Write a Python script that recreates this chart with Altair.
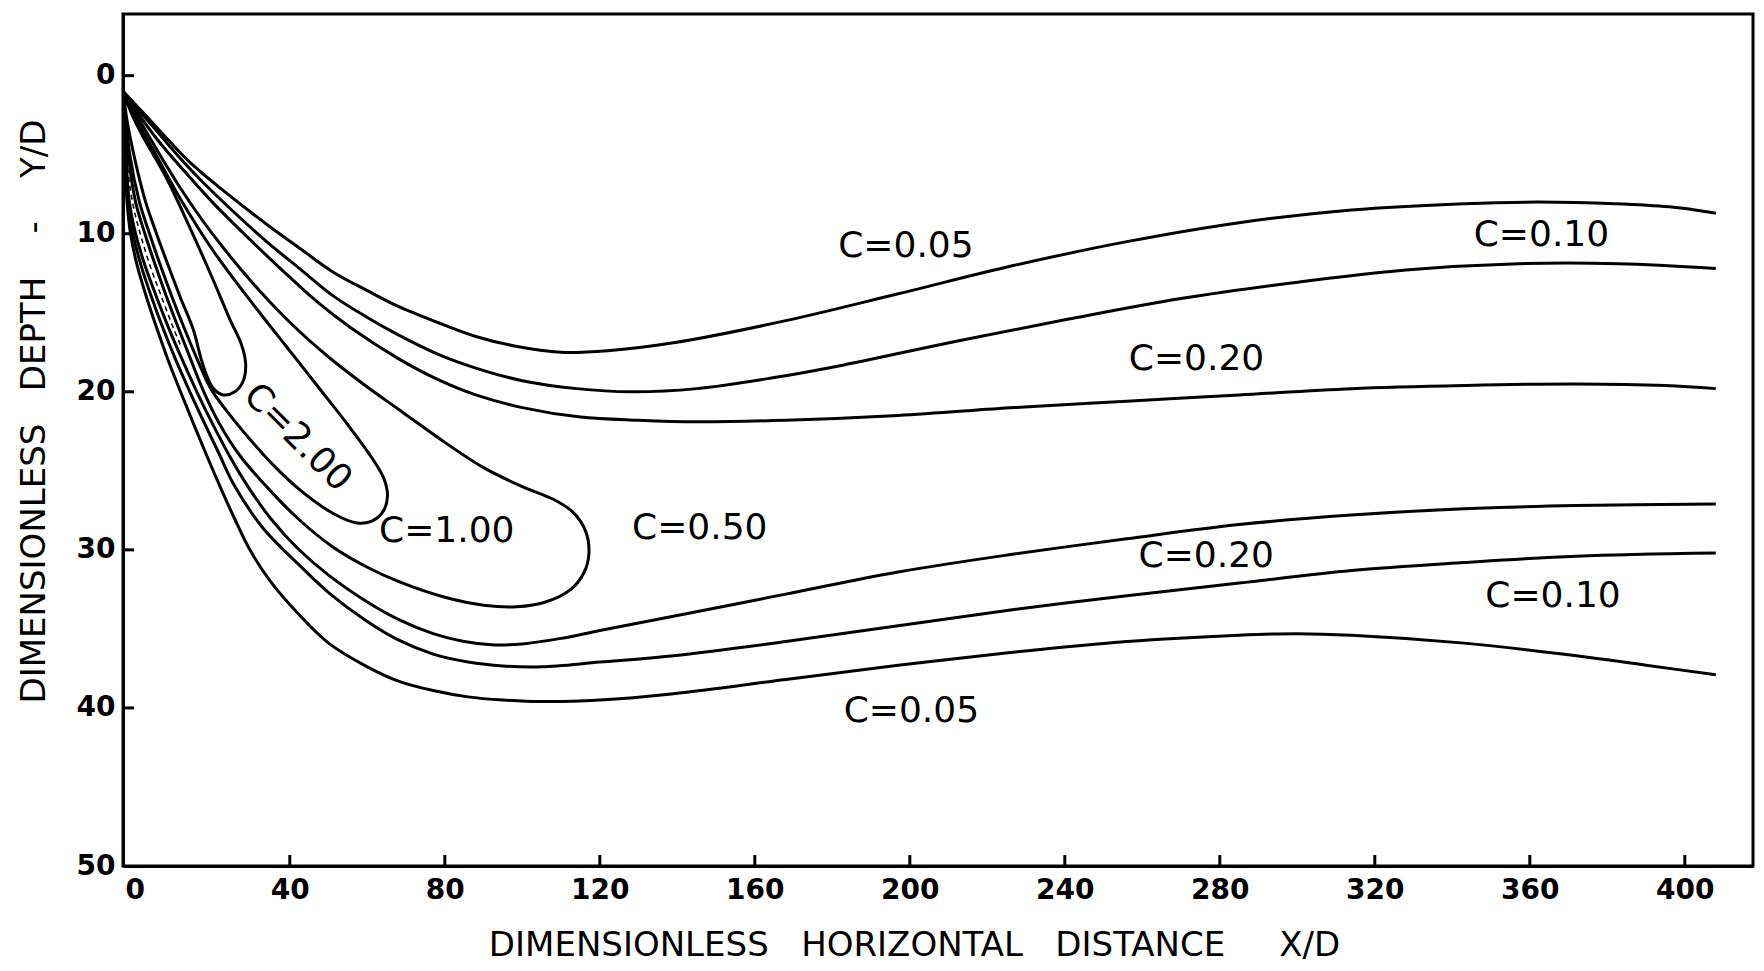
import altair as alt
import pandas as pd

# ---------------- axis values ----------------
X_TICK_VALUES = [0, 40, 80, 120, 160, 200, 240, 280, 320, 360, 400]
Y_TICK_VALUES = [0, 10, 20, 30, 40, 50]
X_INNER_TICKS = [40, 80, 120, 160, 200, 240, 280, 320, 360, 400]
Y_INNER_TICKS = [0, 10, 20, 30, 40]

# ---------------- contour lines (x/D, y/D) ----------------
C005_UPPER = [(-3, 1.0), (2, 2.3), (8, 3.9), (14.3, 5.5), (24, 7.5), (34, 9.4), (43, 11.0),
              (51, 12.4), (60, 13.6), (68, 14.6), (78, 15.6), (88, 16.5), (98, 17.1),
              (110, 17.5), (122, 17.4), (139, 16.9), (168, 15.5), (197, 13.8), (227, 12.0),
              (256, 10.5), (285, 9.3), (314, 8.5), (343, 8.1), (362, 8.0), (382, 8.1),
              (396, 8.3), (408, 8.7)]
C010_UPPER = [(-3, 1.0), (0, 1.9), (6, 3.6), (12, 5.3), (17, 6.6), (25, 8.5), (34, 10.5),
              (43, 12.3), (51, 13.9), (60, 15.3), (68, 16.4), (78, 17.6), (88, 18.5),
              (100, 19.3), (114, 19.8), (128, 20.0), (145, 19.8), (165, 19.1), (183, 18.3),
              (212, 16.8), (241, 15.4), (270, 14.1), (299, 13.1), (328, 12.3), (357, 11.9),
              (383, 11.9), (408, 12.2)]
C020_UPPER = [(-3, 1.0), (0, 2.1), (6, 4.1), (13, 6.1), (20, 8.0), (29, 10.2), (38, 12.3),
              (47, 14.3), (56, 16.0), (68, 17.9), (78, 19.2), (88, 20.2), (100, 21.0),
              (115, 21.6), (130, 21.8), (145, 21.9), (168, 21.8), (197, 21.5), (227, 21.0),
              (256, 20.6), (285, 20.2), (314, 19.8), (343, 19.6), (372, 19.5), (395, 19.6),
              (408, 19.8)]
C050_LOOP = [(-3, 1.0), (0, 2.3), (5, 4.4), (12, 7.2), (20, 10.0), (30, 13.0), (40, 15.6),
             (50, 17.8), (60, 19.7), (68, 21.1), (80, 23.2), (90, 24.8), (100, 26.0),
             (108, 26.8), (113, 27.6), (116.3, 28.8), (117.2, 30.2), (116, 31.4),
             (112.5, 32.5), (106, 33.3), (98.5, 33.6), (90, 33.5), (80, 33.0), (68, 32.0),
             (60, 31.1), (51, 29.8), (42, 28.0), (34, 26.0), (27, 24.0), (21.8, 22.0),
             (17.8, 20.0), (14.5, 18.0), (11.3, 16.0), (8.2, 14.0), (5.3, 12.0), (2.6, 10.0),
             (0.2, 8.0), (-1.7, 5.0), (-3, 1.0)]
C100_LOOP = [(-3, 1.0), (0, 2.6), (5, 4.8), (12, 7.9), (20, 11.0), (30, 14.3), (39, 17.1),
             (48, 19.9), (55, 22.1), (61.5, 24.3), (64.3, 25.5), (65.2, 26.6), (64, 27.6),
             (61, 28.2), (57.3, 28.3), (51.2, 27.7), (42.6, 26.2), (36, 24.7), (29.7, 23.0),
             (24, 21.3), (19.6, 19.8), (16.2, 18.0), (12.8, 16.0), (9.6, 14.0), (6.6, 12.0),
             (3.8, 10.0), (1.2, 8.0), (-1.3, 5.0), (-3, 1.0)]
C200_LOOP = [(-3, 1.0), (-0.5, 2.6), (2.2, 3.9), (8, 6.4), (14, 9.5), (20, 12.8),
             (24.5, 15.4), (27.5, 17.0), (28.6, 18.2), (28.0, 19.3), (25.8, 20.0),
             (22.8, 20.2), (20.3, 19.8), (18.6, 19.0), (17.2, 18.0), (15.0, 16.0),
             (11.7, 14.0), (8.6, 12.0), (5.6, 10.0), (2.8, 8.0), (0.2, 5.5), (-1.9, 3.0),
             (-3, 1.0)]
C020_LOWER = [(-3, 1.0), (-2.5, 4), (-1.4, 8), (0.2, 10), (2.6, 12), (5.6, 14), (8.8, 16),
              (12.3, 18), (16.0, 20), (20.0, 22), (24.3, 24), (29.2, 26), (35, 28),
              (42, 29.9), (50, 31.6), (60, 33.3), (68, 34.4), (77, 35.3), (85, 35.8),
              (92, 36.0), (100, 35.95), (110, 35.6), (120, 35.1), (139, 34.2),
              (168, 32.8), (197, 31.4), (226, 30.3), (256, 29.3), (285, 28.4), (314, 27.8),
              (343, 27.4), (372, 27.2), (408, 27.1)]
C010_LOWER = [(-3, 1.0), (-2.7, 4), (-1.8, 8), (-0.5, 10), (1.6, 12), (4.3, 14), (7.3, 16),
              (10.6, 18), (14.2, 20), (18.0, 22), (21.9, 24), (25.4, 25.8), (33, 28.6),
              (42.6, 31.0), (50, 32.7), (59.8, 34.5), (68, 35.7), (77, 36.6), (86, 37.1),
              (95, 37.35), (105, 37.4), (120, 37.1), (139, 36.7), (168, 35.8), (197, 34.8),
              (226, 33.8), (256, 32.9), (285, 32.1), (314, 31.3), (343, 30.8), (372, 30.4),
              (408, 30.2)]
C005_LOWER = [(-3, 1.0), (-2.75, 4), (-2.0, 8), (-1.1, 10), (0.6, 12), (3.0, 14), (5.7, 16),
              (8.6, 18), (11.8, 20), (15.1, 22), (18.5, 24), (22.0, 26), (25.7, 28),
              (29.7, 30), (35, 32), (42, 34), (50, 35.9), (60, 37.4), (68, 38.3), (77, 38.9),
              (86, 39.3), (95, 39.5), (105, 39.6), (120, 39.5), (139, 39.1), (168, 38.2),
              (197, 37.3), (226, 36.5), (256, 35.8), (285, 35.4), (300, 35.3), (314, 35.4),
              (343, 35.9), (372, 36.7), (390, 37.3), (408, 37.9)]
CENTERLINE = [(-2.8, 3), (-2.2, 5), (-0.6, 8), (1.4, 10), (3.9, 12), (6.9, 14), (10.0, 16),
              (11.7, 17)]

# ---------------- contour labels ----------------
LABEL_TEXT = ["C=0.05", "C=0.10", "C=0.20", "C=2.00", "C=1.00", "C=0.50",
              "C=0.20", "C=0.10", "C=0.05"]
LABEL_X = [199, 363, 274, 42, 80.5, 145.8, 276.5, 366, 200.4]
LABEL_Y = [10.8, 10.1, 17.9, 22.9, 28.8, 28.6, 30.4, 32.9, 40.2]
LABEL_ANGLE = [0, 0, 0, 45, 0, 0, 0, 0, 0]

CURVES = {
    "C005_UPPER": C005_UPPER, "C010_UPPER": C010_UPPER, "C020_UPPER": C020_UPPER,
    "C050_LOOP": C050_LOOP, "C100_LOOP": C100_LOOP, "C200_LOOP": C200_LOOP,
    "C020_LOWER": C020_LOWER, "C010_LOWER": C010_LOWER, "C005_LOWER": C005_LOWER,
}

rows = []
for name, pts in CURVES.items():
    for i, (px, py) in enumerate(pts):
        rows.append({"curve": name, "order": i, "x": px, "y": py})
lines_df = pd.DataFrame(rows)
center_df = pd.DataFrame([{"order": i, "x": px, "y": py} for i, (px, py) in enumerate(CENTERLINE)])
labels_df = pd.DataFrame({"label": LABEL_TEXT, "x": LABEL_X, "y": LABEL_Y, "angle": LABEL_ANGLE})

W, H = 1630, 852
FONT = "DejaVu Sans"
NB = "\u00a0"

xscale = alt.Scale(domain=[-3.05, 417.6], nice=False, zero=False)
yscale = alt.Scale(domain=[-3.9, 50], reverse=True, nice=False, zero=False)

X_TITLE = ("DIMENSIONLESS" + NB * 3 + "HORIZONTAL" + NB * 3 + "DISTANCE" + NB * 5 + "X/D")
Y_TITLE = ("DIMENSIONLESS" + NB * 3 + "DEPTH" + NB * 4 + "-" + NB * 4 + "Y/D")


def x_axis():
    return alt.Axis(
        values=X_TICK_VALUES, ticks=False, grid=False,
        labelFont=FONT, labelFontSize=28, labelFontWeight="bold", labelColor="black",
        labelPadding=10, labelFlush=False, labelOverlap=False,
        domainColor="black", domainWidth=3,
        title=X_TITLE,
        titleFont=FONT, titleFontSize=34, titleFontWeight="normal", titleColor="black",
        titleX=791, titleY=79, titleAlign="center", titleBaseline="middle",
    )


def y_axis():
    return alt.Axis(
        values=Y_TICK_VALUES, ticks=False, grid=False,
        labelFont=FONT, labelFontSize=28, labelFontWeight="bold", labelColor="black",
        labelPadding=8, labelFlush=False, labelOverlap=False,
        domainColor="black", domainWidth=3,
        title=Y_TITLE,
        titleFont=FONT, titleFontSize=34, titleFontWeight="normal", titleColor="black",
        titleAngle=270, titleX=-89, titleY=397, titleAlign="center", titleBaseline="middle",
    )


contours = alt.Chart(lines_df).mark_line(
    color="black", strokeWidth=3, interpolate="catmull-rom", clip=True
).encode(
    x=alt.X("x:Q", scale=xscale, axis=x_axis()),
    y=alt.Y("y:Q", scale=yscale, axis=y_axis()),
    detail="curve:N",
    order="order:Q",
)

centerline = alt.Chart(center_df).mark_line(
    color="black", strokeWidth=1.5, strokeDash=[5, 4], interpolate="catmull-rom"
).encode(
    x=alt.X("x:Q", scale=xscale, axis=x_axis()),
    y=alt.Y("y:Q", scale=yscale, axis=y_axis()),
    order="order:Q",
)

labels = alt.Chart(labels_df).mark_text(
    font=FONT, fontSize=36, color="black", align="center", baseline="middle"
).encode(
    x=alt.X("x:Q", scale=xscale, axis=x_axis()),
    y=alt.Y("y:Q", scale=yscale, axis=y_axis()),
    text="label:N",
    angle=alt.Angle("angle:Q", scale=None),
)

xticks = alt.Chart(pd.DataFrame({"x": X_INNER_TICKS})).mark_rule(
    color="black", strokeWidth=3
).encode(
    x=alt.X("x:Q", scale=xscale, axis=x_axis()),
    y=alt.value(H),
    y2=alt.value(H - 11),
)

yticks = alt.Chart(pd.DataFrame({"y": Y_INNER_TICKS})).mark_rule(
    color="black", strokeWidth=3
).encode(
    y=alt.Y("y:Q", scale=yscale, axis=y_axis()),
    x=alt.value(0),
    x2=alt.value(11),
)

chart = alt.layer(contours, centerline, labels, xticks, yticks).properties(
    width=W, height=H,
    autosize=alt.AutoSizeParams(type="none"),
    padding={"left": 115, "top": 6, "right": 3, "bottom": 97},
    background="white",
).configure_view(stroke="black", strokeWidth=3)

chart.save("out.html", embed_options={"renderer": "svg", "actions": False})
